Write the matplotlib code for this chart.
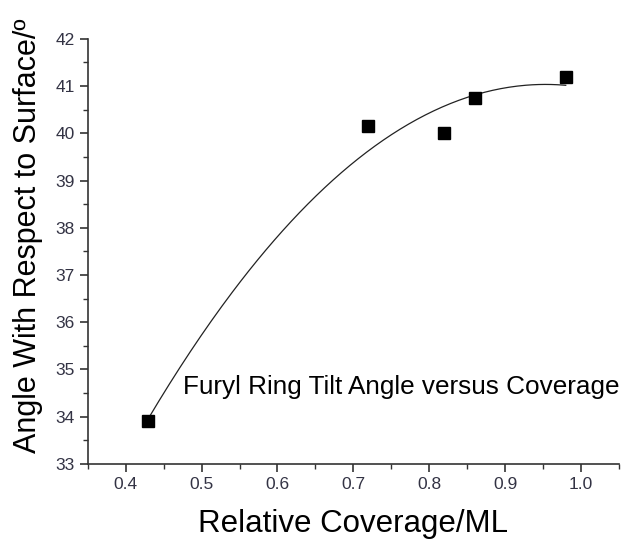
import numpy as np
import matplotlib
matplotlib.use("Agg")
import matplotlib.pyplot as plt
from matplotlib.ticker import MultipleLocator

plt.rcParams['font.family'] = ['Liberation Sans', 'DejaVu Sans']

# adatok
coverage = [0.43, 0.72, 0.82, 0.86, 0.98]
angle = [33.9, 40.15, 40.0, 40.75, 41.2]

fig = plt.figure(figsize=(6.27, 5.4), dpi=100)
ax = fig.add_axes([0.140, 0.141, 0.847, 0.787])

# masodfoku illesztes
coef = np.polyfit(coverage, angle, 2)
xs = np.linspace(min(coverage), max(coverage), 200)
ax.plot(xs, np.polyval(coef, xs), color="#222222", lw=0.9)

ax.plot(coverage, angle, "s", color="black", ms=9)

ax.set_xlim(0.35, 1.05)
ax.set_ylim(33, 42)
ax.xaxis.set_major_locator(MultipleLocator(0.1))
ax.xaxis.set_minor_locator(MultipleLocator(0.05))
ax.yaxis.set_major_locator(MultipleLocator(1))
ax.yaxis.set_minor_locator(MultipleLocator(0.5))
ax.xaxis.set_major_formatter(plt.FormatStrFormatter("%.1f"))

for s in ["top", "right"]:
    ax.spines[s].set_visible(False)
for s in ["left", "bottom"]:
    ax.spines[s].set_color("#333333")
    ax.spines[s].set_linewidth(1.2)

ax.tick_params(which="major", direction="out", length=6, width=1.2, colors="#333333",
               labelsize=12.5, labelcolor="#333344")
ax.tick_params(which="minor", direction="out", length=3.5, width=1.0, colors="#333333")

ax.set_xlabel("Relative Coverage/ML", fontsize=22.5, labelpad=12)
ax.set_ylabel("Angle With Respect to Surface/º", fontsize=22, labelpad=9)
ax.yaxis.label.set_y(0.536)

ax.text(0.476, 34.63, "Furyl Ring Tilt Angle versus Coverage", fontsize=18.8, va="center")

plt.savefig("out.png")
